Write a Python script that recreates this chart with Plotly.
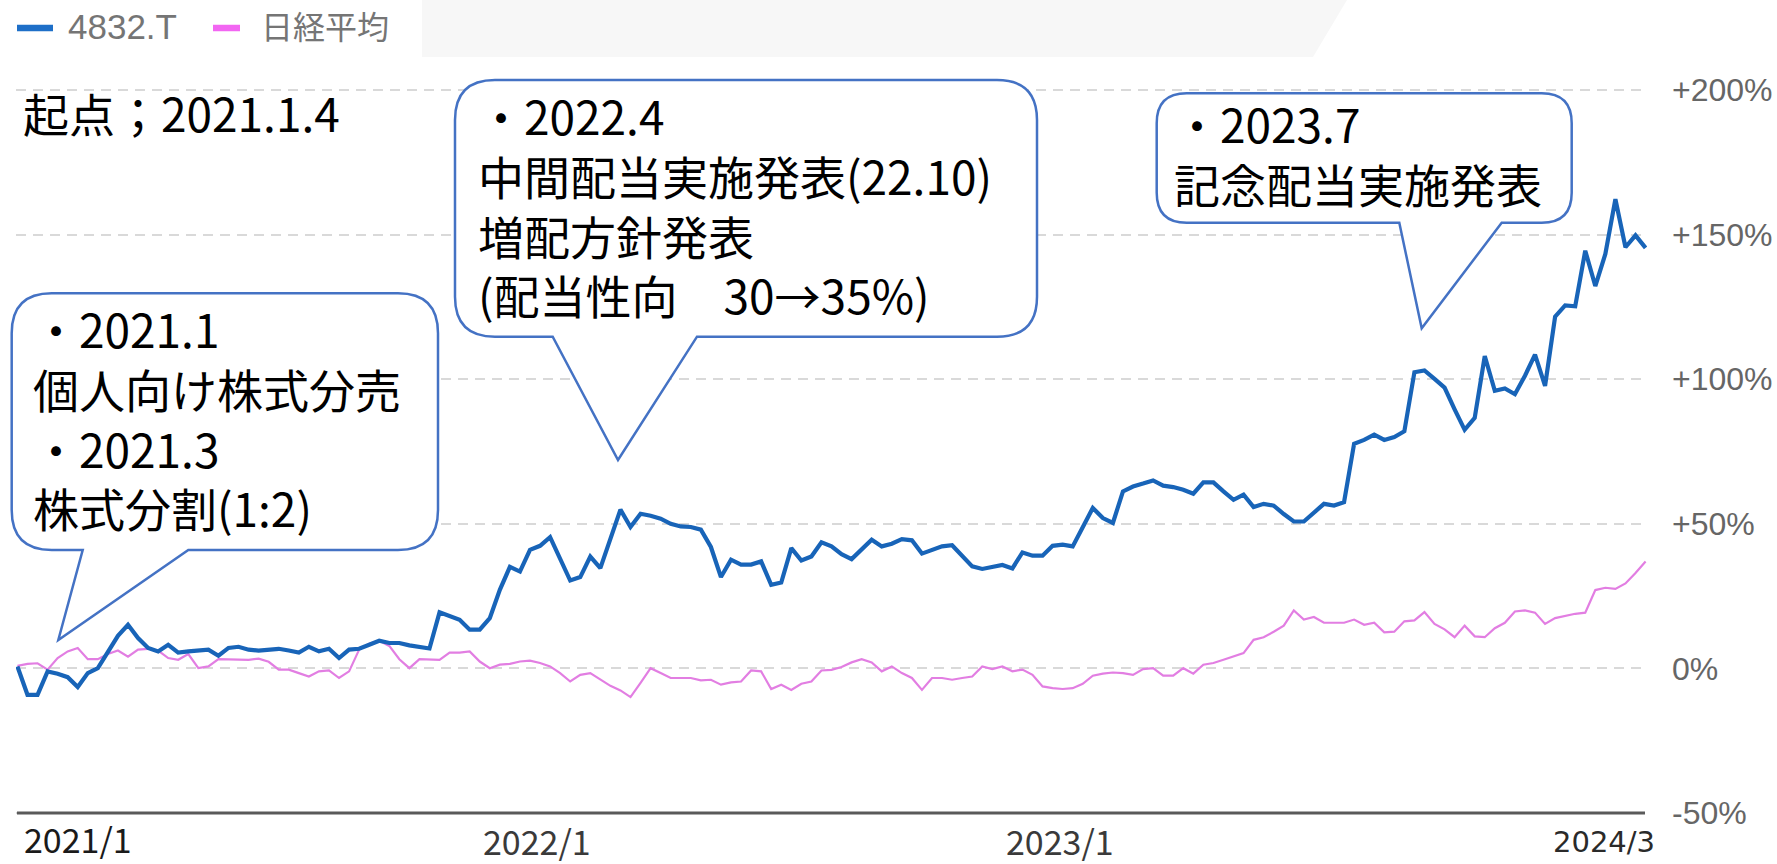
import pandas as pd
import plotly.graph_objects as go

# ---------------- data (weekly, % change from 2021-01-04) ----------------
start_date = "2021-01-04"
stock_name = "4832.T"
index_name = "日経平均"

stock_pct = [
    0.7, -9.1, -9.1, -1.0, -1.8, -3.0, -6.4, -1.6, 0.1, 5.9,
    11.3, 15.1, 10.5, 7.1, 5.9, 8.2, 5.5, 5.9, 6.2, 6.5,
    4.4, 7.1, 7.5, 6.5, 6.2, 6.5, 6.8, 6.2, 5.5, 7.5,
    5.9, 6.8, 3.6, 6.5, 6.8, 8.2, 9.6, 8.8, 8.8, 8.0,
    7.5, 6.9, 19.4, 18.2, 16.8, 13.4, 13.4, 17.4, 27.2, 35.1,
    33.5, 41.0, 42.4, 45.4, 37.6, 30.4, 31.6, 38.7, 34.7, 44.5,
    54.9, 48.9, 53.5, 52.8, 51.8, 50.0, 49.1, 48.9, 48.0, 42.0,
    31.6, 37.6, 35.9, 35.9, 37.0, 28.9, 29.7, 41.6, 37.3, 38.7,
    43.6, 42.2, 39.5, 37.8, 41.0, 44.5, 42.2, 43.1, 44.7, 44.3,
    39.7, 40.8, 42.2, 42.6, 39.0, 35.3, 34.4, 35.1, 35.8, 34.6,
    40.1, 39.0, 39.0, 42.4, 42.8, 42.2, 49.1, 55.5, 52.0, 50.3,
    61.2, 62.9, 63.9, 65.0, 63.2, 62.7, 61.8, 60.4, 64.3, 64.3,
    61.2, 58.3, 60.1, 55.8, 56.9, 56.3, 53.4, 50.8, 50.8, 53.9,
    56.9, 56.3, 57.5, 77.7, 79.0, 80.8, 79.0, 80.0, 82.0, 102.4,
    103.0, 100.1, 97.1, 89.6, 82.5, 86.6, 108.0, 96.0, 96.8, 94.8,
    101.2, 108.5, 97.7, 121.6, 125.5, 125.2, 144.4, 132.2, 143.3, 162.2,
    145.6, 149.7, 145.4,
]

nikkei_pct = [
    0.9, 1.6, 1.8, -0.4, 3.6, 5.9, 7.1, 3.2, 3.2, 5.0,
    6.2, 4.1, 6.5, 6.8, 6.2, 3.6, 3.0, 5.0, 0.1, 0.7,
    3.2, 3.2, 3.2, 3.0, 3.4, 2.3, -0.4, -0.4, -1.6, -2.8,
    -1.0, -0.7, -3.3, -1.0, 6.5, 8.5, 9.6, 7.8, 3.2, 0.1,
    3.2, 3.0, 3.0, 5.5, 5.5, 5.9, 2.4, 0.1, 1.3, 1.6,
    2.4, 2.7, 1.9, 0.7, -1.6, -4.5, -2.2, -1.6, -3.9, -6.0,
    -7.6, -9.9, -5.0, 0.1, -1.6, -3.3, -3.3, -3.3, -4.1, -3.9,
    -5.6, -4.8, -4.5, -0.7, -1.0, -7.1, -5.6, -7.4, -5.3, -4.5,
    -0.7, -0.5, 0.5, 2.1, 3.2, 2.1, -1.0, 0.7, -1.6, -3.3,
    -7.4, -3.3, -3.3, -3.9, -3.3, -2.8, 0.7, -0.2, 0.7, -1.0,
    -0.4, -2.2, -6.2, -6.8, -7.1, -6.8, -5.3, -2.5, -1.8, -1.4,
    -1.6, -2.2, -0.2, 0.1, -2.5, -2.5, 0.1, -1.8, 1.3, 1.9,
    3.0, 4.2, 5.3, 9.9, 10.8, 12.7, 14.8, 20.1, 16.9, 17.8,
    15.8, 15.8, 15.8, 16.9, 15.1, 15.8, 12.5, 12.7, 16.3, 16.6,
    19.5, 15.4, 13.5, 10.8, 14.8, 11.1, 10.8, 13.9, 15.8, 19.7,
    20.1, 19.3, 15.4, 17.4, 18.1, 18.9, 19.3, 27.1, 27.9, 27.5,
    29.4, 33.0, 37.0,
]

dates = pd.date_range(start_date, periods=len(stock_pct), freq="7D")

y_ticks = [-50, 0, 50, 100, 150, 200]
y_tick_labels = ["-50%", "0%", "+50%", "+100%", "+150%", "+200%"]

x_labels = ["2021/1", "2022/1", "2023/1", "2024/3"]

start_note = "起点；2021.1.4"
note1 = ["・2021.1", "個人向け株式分売", "・2021.3", "株式分割(1:2)"]
note2 = ["・2022.4", "中間配当実施発表(22.10)", "増配方針発表", "(配当性向　30→35%)"]
note3 = ["・2023.7", "記念配当実施発表"]

# ---------------- layout geometry (pixels) ----------------
W, H = 1777, 864
L, PW, T, PH = 16, 1631, 87, 729
BOT = T + PH

def px(x):
    return (x - L) / PW

def py(y):
    return (BOT - y) / PH

BLUE = "#1864B8"
PINK = "#E27EE2"
BOX = "#4472C4"
JP = "Noto Sans CJK JP"

fig = go.Figure()
fig.add_trace(go.Scatter(x=dates, y=nikkei_pct, mode="lines", name=index_name,
                         line=dict(color=PINK, width=2.2), hoverinfo="skip"))
fig.add_trace(go.Scatter(x=dates, y=stock_pct, mode="lines", name=stock_name,
                         line=dict(color=BLUE, width=4.2), hoverinfo="skip"))

shapes = []
annotations = []

# top grey band (screenshot background)
band = [(422, 0), (1347, 0), (1313, 57), (422, 57)]
shapes.append(dict(type="path", xref="paper", yref="paper",
                   path="M " + " L ".join(f"{px(a):.5f},{py(b):.5f}" for a, b in band) + " Z",
                   fillcolor="#F7F7F7", line=dict(width=0), layer="above"))

# bottom axis line
shapes.append(dict(type="line", xref="paper", yref="y", x0=px(17), x1=px(1645), y0=-50, y1=-50,
                   line=dict(color="#5A5A5A", width=3), layer="above"))

def callout(l, t, r, b, rad, p1, p2, tip):
    pts = [
        ("M", [(l + rad, t)]),
        ("L", [(r - rad, t)]),
        ("Q", [(r, t), (r, t + rad)]),
        ("L", [(r, b - rad)]),
        ("Q", [(r, b), (r - rad, b)]),
        ("L", [(p2, b)]),
        ("L", [tip]),
        ("L", [(p1, b)]),
        ("L", [(l + rad, b)]),
        ("Q", [(l, b), (l, b - rad)]),
        ("L", [(l, t + rad)]),
        ("Q", [(l, t), (l + rad, t)]),
    ]
    s = ""
    for cmd, ps in pts:
        s += cmd + " " + " ".join(f"{px(a):.5f},{py(c):.5f}" for a, c in ps) + " "
    s += "Z"
    return dict(type="path", xref="paper", yref="paper", path=s,
                fillcolor="white", line=dict(color=BOX, width=2.5), layer="above")

shapes.append(callout(11.7, 293.3, 438, 550, 40, 82.7, 188.3, (58.3, 640)))
shapes.append(callout(455, 80, 1037, 336.7, 40, 552.7, 697, (618, 460)))
shapes.append(callout(1156.7, 93.3, 1571.7, 222.7, 30, 1399.3, 1501.7, (1421.7, 328.3)))

# legend marks
shapes.append(dict(type="line", xref="paper", yref="paper", x0=px(17), x1=px(53), y0=py(28), y1=py(28),
                   line=dict(color="#1E6FC8", width=6.5)))
shapes.append(dict(type="line", xref="paper", yref="paper", x0=px(213), x1=px(240), y0=py(28), y1=py(28),
                   line=dict(color="#F266F2", width=6.5)))

def text(t_, x, y, size, color="#000000", family=JP, xanchor="left"):
    annotations.append(dict(text=t_, xref="paper", yref="paper", x=px(x), y=py(y),
                            xanchor=xanchor, yanchor="middle", align="left", showarrow=False,
                            font=dict(family=family, size=size, color=color)))

text(stock_name, 66, 27, 35, "#757575", "Liberation Sans")
text(index_name, 259, 24.5, 32, "#757575")

FS = 46
text(start_note, 21, 112, FS)
text("<br>".join(note1), 31, 417.4, FS)
text("<br>".join(note2), 476, 204.4, FS)
text("<br>".join(note3), 1172, 153.3, FS)

# x-axis labels
text(x_labels[0], 22, 839, 34, "#1A1A1A")
text(x_labels[1], 537, 840, 34, "#3A3A3A", xanchor="center")
text(x_labels[2], 1060, 840, 34, "#3A3A3A", xanchor="center")
text(x_labels[3], 1604, 842, 29, "#2A2A2A", "DejaVu Sans", xanchor="center")

fig.update_layout(
    width=W, height=H,
    margin=dict(l=L, r=W - L - PW, t=T, b=H - BOT, pad=0, autoexpand=False),
    paper_bgcolor="white", plot_bgcolor="white",
    showlegend=False,
    font=dict(family=JP),
    shapes=shapes, annotations=annotations,
    xaxis=dict(type="date", range=["2021-01-03", "2024-02-13"], showgrid=False, automargin=False,
               showticklabels=False, zeroline=False, showline=False, ticks=""),
    yaxis=dict(range=[-51, 201], side="right", tickvals=y_ticks, ticktext=y_tick_labels,
               automargin=False,
               showgrid=True, gridcolor="#D9D9D9", gridwidth=2, griddash="10px,7px",
               zeroline=False, showline=False, ticks="", ticklabelstandoff=24,
               tickfont=dict(family="Liberation Sans", size=32, color="#666666")),
)

fig.write_html("out.html")
